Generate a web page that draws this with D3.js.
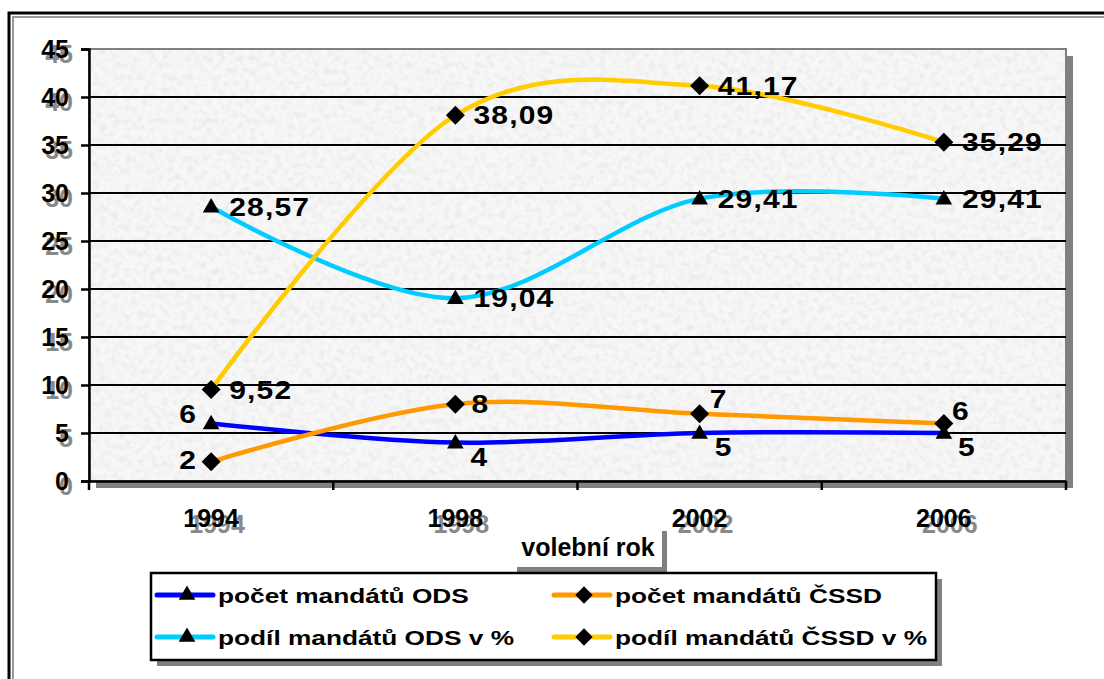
<!DOCTYPE html>
<html>
<head>
<meta charset="utf-8">
<script src="https://cdn.jsdelivr.net/npm/d3@7"></script>
<style>
  body { margin: 0; background: #fff; }
  svg text { font-family: "Liberation Sans", Arial, sans-serif; font-weight: bold; }
</style>
</head>
<body>
<svg id="chart" width="1104" height="679"></svg>
<script>
const years = ["1994", "1998", "2002", "2006"]
const yTicks = [0, 5, 10, 15, 20, 25, 30, 35, 40, 45]

const odsCount = [6, 4, 5, 5]
const cssdCount = [2, 8, 7, 6]
const odsShare = [28.57, 19.04, 29.41, 29.41]
const cssdShare = [9.52, 38.09, 41.17, 35.29]

const seriesNames = ["počet mandátů ODS", "počet mandátů ČSSD", "podíl mandátů ODS v %", "podíl mandátů ČSSD v %"]
const axisTitle = "volební rok"

// where each data label sits relative to its marker (dx, dy of text centre)
const labelPlace = [
    [[-14, -9, "end"], [15, 14, "start"], [15, 14, "start"], [14, 14, "start"]],
    [[-14, -2, "end"], [16, 0, "start"], [10, -15, "start"], [8, -12, "start"]],
    [[18, 0, "start"], [18, 0, "start"], [18, 0, "start"], [18, 0, "start"]],
    [[18, 0, "start"], [18, 0, "start"], [18, 0, "start"], [18, 0, "start"]]
]

const series = [
    { name: seriesNames[0], values: odsCount, color: "#0000ff", marker: d3.symbolTriangle },
    { name: seriesNames[1], values: cssdCount, color: "#ff9900", marker: d3.symbolDiamond2 },
    { name: seriesNames[2], values: odsShare, color: "#00ccff", marker: d3.symbolTriangle },
    { name: seriesNames[3], values: cssdShare, color: "#ffcc00", marker: d3.symbolDiamond2 }
]

const svg = d3.select("#chart")
const plot = { left: 89, top: 49, right: 1066, bottom: 481 }

const defs = svg.append("defs")
const noise = defs.append("filter").attr("id", "granite")
    .attr("x", 0).attr("y", 0).attr("width", "100%").attr("height", "100%")
noise.append("feTurbulence")
    .attr("type", "fractalNoise").attr("baseFrequency", 0.16)
    .attr("numOctaves", 3).attr("seed", 7).attr("result", "n")
noise.append("feColorMatrix").attr("in", "n").attr("type", "matrix")
    .attr("values", "0 0 0 0 0.82  0 0 0 0 0.82  0 0 0 0 0.82  -2.2 0 0 0 1.3")
    .attr("result", "spots")
noise.append("feFlood").attr("flood-color", "#f7f7f7").attr("result", "base")
noise.append("feComposite").attr("in", "spots").attr("in2", "base").attr("operator", "over")

// outer frame (cut off at right/bottom)
svg.append("path").attr("d", "M9,679 V13 H1104").attr("fill", "none").attr("stroke", "#000").attr("stroke-width", 3)
svg.append("path").attr("d", "M13,679 V17 H1104").attr("fill", "none").attr("stroke", "#999").attr("stroke-width", 2)

const x = d3.scalePoint().domain(years).range([plot.left, plot.right]).padding(0.5)
const xBand = d3.scaleBand().domain(years).range([plot.left, plot.right])
const y = d3.scaleLinear().domain([0, 45]).range([plot.bottom, plot.top])

// plot area shadow + textured fill
svg.append("rect").attr("x", plot.left + 7).attr("y", plot.top + 7)
    .attr("width", plot.right - plot.left).attr("height", plot.bottom - plot.top).attr("fill", "#808080")
svg.append("rect").attr("x", plot.left).attr("y", plot.top)
    .attr("width", plot.right - plot.left).attr("height", plot.bottom - plot.top)
    .attr("filter", "url(#granite)")
svg.append("rect").attr("x", plot.left).attr("y", plot.top)
    .attr("width", plot.right - plot.left).attr("height", plot.bottom - plot.top)
    .attr("fill", "none").attr("stroke", "#808080").attr("stroke-width", 2)

// gridlines
svg.append("g").selectAll("line").data(yTicks.filter(d => d > 0 && d < 45)).join("line")
    .attr("x1", plot.left).attr("x2", plot.right)
    .attr("y1", d => y(d)).attr("y2", d => y(d))
    .attr("stroke", "#000").attr("stroke-width", 2)

// y axis
const yAxis = svg.append("g").attr("transform", `translate(${plot.left},0)`)
    .call(d3.axisLeft(y).tickValues(yTicks).tickSize(8).tickPadding(12))
yAxis.select(".domain").attr("stroke-width", 2.5)
yAxis.selectAll(".tick line").attr("stroke-width", 2.5)
yAxis.selectAll(".tick text").attr("fill", "#000").attr("font-size", 25)
    .attr("font-family", "Liberation Sans, Arial").attr("font-weight", "bold")
    .clone(true).lower().attr("fill", "#888").attr("dx", 4).attr("dy", "0.52em")

// x axis
const xAxis = svg.append("g").attr("transform", `translate(0,${plot.bottom})`)
    .call(d3.axisBottom(xBand).tickSize(0).tickPadding(28))
xAxis.select(".domain").attr("stroke-width", 2.5)
xAxis.selectAll(".tick text").attr("fill", "#000").attr("font-size", 25)
    .attr("font-family", "Liberation Sans, Arial").attr("font-weight", "bold")
    .clone(true).lower().attr("fill", "#888").attr("dx", 6).attr("dy", "0.96em")
const bounds = years.map(d => xBand(d)).concat([plot.right])
xAxis.append("g").selectAll("line").data(bounds).join("line")
    .attr("x1", d => d).attr("x2", d => d).attr("y1", 0).attr("y2", 9)
    .attr("stroke", "#000").attr("stroke-width", 2.5)

// axis title box
svg.append("rect").attr("x", 517).attr("y", 531).attr("width", 150).attr("height", 41).attr("fill", "#808080")
svg.append("rect").attr("x", 512).attr("y", 526).attr("width", 150).attr("height", 41).attr("fill", "#fff")
svg.append("text").attr("x", 588).attr("y", 556).attr("text-anchor", "middle")
    .attr("font-size", 25).text(axisTitle)

// lines
const line = d3.line().x((d, i) => x(years[i])).y(d => y(d)).curve(d3.curveCardinal.tension(0))
const drawOrder = [2, 3, 0, 1]
drawOrder.forEach(k => {
    const s = series[k]
    svg.append("path").datum(s.values).attr("d", line)
        .attr("fill", "none").attr("stroke", s.color).attr("stroke-width", 4.5)
})

// markers and labels
const fmt = v => String(v).replace(".", ",")
const symSize = m => m === d3.symbolTriangle ? 120 : 230
series.forEach((s, k) => {
    const g = svg.append("g")
    g.selectAll("path").data(s.values).join("path")
        .attr("transform", (d, i) => `translate(${x(years[i])},${y(d) + (s.marker === d3.symbolTriangle ? 1 : 0)})`)
        .attr("d", d3.symbol().type(s.marker).size(symSize(s.marker)))
        .attr("fill", "#000")
    g.selectAll("text").data(s.values).join("text")
        .attr("transform", (d, i) => `translate(${x(years[i]) + labelPlace[k][i][0]},${y(d) + labelPlace[k][i][1] + 9}) scale(1.2,1)`)
        .attr("text-anchor", (d, i) => labelPlace[k][i][2])
        .attr("font-size", 25).attr("letter-spacing", 1).attr("fill", "#000")
        .text(d => fmt(d))
})

// legend
const lg = { x: 151, y: 573, w: 785, h: 87 }
svg.append("rect").attr("x", lg.x + 6).attr("y", lg.y + 6).attr("width", lg.w).attr("height", lg.h).attr("fill", "#808080")
svg.append("rect").attr("x", lg.x).attr("y", lg.y).attr("width", lg.w).attr("height", lg.h)
    .attr("fill", "#fff").attr("stroke", "#000").attr("stroke-width", 2.5)
const items = svg.append("g").selectAll("g").data(series).join("g")
    .attr("transform", (d, i) => `translate(${lg.x + 6 + (i % 2) * 397},${lg.y + 22 + Math.floor(i / 2) * 42})`)
items.append("line").attr("x1", 0).attr("x2", 56).attr("y1", 0).attr("y2", 0)
    .attr("stroke", d => d.color).attr("stroke-width", 5).attr("stroke-linecap", "round")
items.append("path").attr("transform", "translate(30,0)")
    .attr("d", d => d3.symbol().type(d.marker).size(d.marker === d3.symbolTriangle ? 120 : 190)())
    .attr("fill", "#000")
items.append("text").attr("transform", "translate(61,8) scale(1.25,1)")
    .attr("font-size", 21).text(d => d.name)
</script>
</body>
</html>
